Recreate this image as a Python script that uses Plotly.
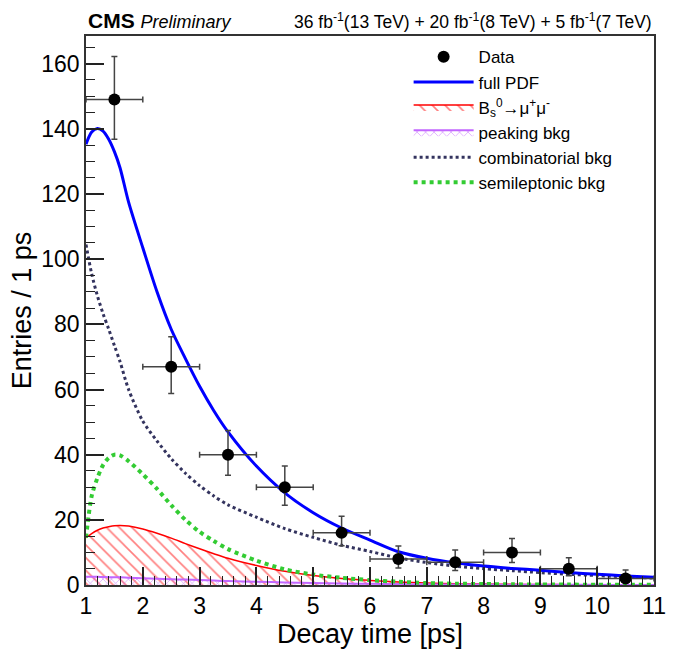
import plotly.graph_objects as go

# ---- data ----
bin_centers = [1.5, 2.5, 3.5, 4.5, 5.5, 6.5, 7.5, 8.5, 9.5, 10.5]
counts = [149, 67, 40, 30, 16, 8, 7, 10, 5, 2]
err_up = [13.2, 9.2, 7.4, 6.5, 5.1, 3.95, 3.77, 4.26, 3.38, 2.64]
err_down = [12.2, 8.2, 6.3, 5.5, 3.96, 2.76, 2.58, 3.11, 2.16, 1.29]
bin_half_width = [0.5] * 10

t_knots = [1.0, 1.1, 1.2, 1.3, 1.4, 1.5, 1.6, 1.75, 2.0, 2.25, 2.5, 2.75, 3.0, 3.25, 3.5,
           4.0, 4.5, 5.0, 5.5, 6.0, 6.5, 7.0, 7.5, 8.0, 8.5, 9.0, 9.5, 10.0, 10.5, 11.0]
full_pdf = [135.3, 139.0, 140.1, 139.3, 136.8, 133.0, 128.0, 117.5, 103.5, 90.0, 78.5, 69.5, 61.0, 53.5, 47.0,
            36.5, 28.3, 22.2, 17.5, 13.8, 10.2, 8.2, 6.8, 5.8, 5.1, 4.5, 3.8, 3.3, 2.8, 2.4]
signal_bs = [14.5, 15.8, 16.8, 17.5, 17.9, 18.2, 18.3, 18.1, 17.2, 15.9, 14.4, 12.7, 11.1, 9.6, 8.2,
             6.0, 4.2, 2.9, 2.0, 1.4, 0.9, 0.6, 0.4, 0.3, 0.2, 0.15, 0.1, 0.08, 0.05, 0.04]
peaking_bkg = [2.5, 2.5, 2.5, 2.45, 2.4, 2.4, 2.35, 2.25, 2.1, 1.95, 1.8, 1.65, 1.5, 1.35, 1.2,
               1.0, 0.8, 0.6, 0.45, 0.35, 0.27, 0.2, 0.16, 0.12, 0.09, 0.07, 0.05, 0.04, 0.03, 0.02]
comb_bkg = [104.5, 95.5, 88.8, 83.3, 78.5, 73.5, 68.5, 60.0, 50.3, 44.2, 38.8, 34.3, 30.5, 27.3, 24.6,
            20.8, 17.3, 14.6, 12.2, 10.3, 8.3, 6.9, 5.8, 5.0, 4.4, 3.8, 3.3, 2.9, 2.5, 2.1]
semi_bkg = [14.5, 27.3, 32.8, 36.8, 39.0, 40.0, 39.8, 38.0, 34.0, 29.5, 24.5, 20.0, 16.3, 13.5, 11.0,
            7.5, 4.8, 3.2, 2.2, 1.5, 1.0, 0.6, 0.4, 0.3, 0.22, 0.15, 0.12, 0.1, 0.07, 0.05]

x_ticks = list(range(1, 12))
y_ticks = [0, 20, 40, 60, 80, 100, 120, 140, 160]

FONT = "Liberation Sans, Arial, Helvetica, sans-serif"

fig = go.Figure()

fig.add_trace(go.Scatter(
    x=t_knots, y=signal_bs, mode="lines", name="B<sub>s</sub><sup>0</sup>→μ<sup>+</sup>μ<sup>-</sup>",
    line=dict(color="#ff0000", width=1.5, shape="spline", smoothing=0.8),
    fill="tozeroy", fillcolor="rgba(255,255,255,0)",
    fillpattern=dict(shape="\\", fgcolor="#ff0000", bgcolor="rgba(255,255,255,0)", size=9, solidity=0.18),
    legendrank=3))
fig.add_trace(go.Scatter(
    x=t_knots, y=peaking_bkg, mode="lines", name="peaking bkg",
    line=dict(color="#c266ff", width=2, shape="spline", smoothing=0.8),
    fill="tozeroy", fillcolor="rgba(255,255,255,0)",
    fillpattern=dict(shape="x", fgcolor="#b84dff", bgcolor="rgba(255,255,255,0)", size=6, solidity=0.25),
    legendrank=4))
fig.add_trace(go.Scatter(
    x=t_knots, y=comb_bkg, mode="lines", name="combinatorial bkg",
    line=dict(color="#33335e", width=3, dash="dot", shape="spline", smoothing=0.8),
    legendrank=5))
fig.add_trace(go.Scatter(
    x=t_knots, y=semi_bkg, mode="lines", name="semileptonic bkg",
    line=dict(color="#33cc33", width=4, dash="dot", shape="spline", smoothing=0.8),
    legendrank=6))
fig.add_trace(go.Scatter(
    x=t_knots, y=full_pdf, mode="lines", name="full PDF",
    line=dict(color="#0000ff", width=3, shape="spline", smoothing=0.8),
    legendrank=2))
fig.add_trace(go.Scatter(
    x=bin_centers, y=counts, mode="markers", name="Data",
    marker=dict(color="black", size=12),
    error_y=dict(type="data", symmetric=False, array=err_up, arrayminus=err_down,
                 color="#444444", thickness=1.5, width=3),
    error_x=dict(type="data", array=bin_half_width, color="#444444", thickness=1.5, width=3),
    legendrank=1))

fig.update_layout(
    width=678, height=660,
    margin=dict(l=86, r=16, t=36, b=75),
    paper_bgcolor="white", plot_bgcolor="white",
    font=dict(family=FONT, color="black"),
    showlegend=True,
    legend=dict(x=0.568, y=0.994, xanchor="left", yanchor="top",
                font=dict(size=17, family=FONT), bgcolor="rgba(255,255,255,0)",
                itemwidth=60, tracegroupgap=0),
    xaxis=dict(range=[1, 11], tickmode="array", tickvals=x_ticks, ticktext=[str(v) for v in x_ticks],
               ticks="inside", ticklen=18, tickwidth=1.5, tickcolor="#222",
               minor=dict(dtick=0.2, tick0=1, ticks="inside", ticklen=9, tickwidth=1.2, tickcolor="#222"),
               showline=True, linecolor="#333", linewidth=1.5, mirror=True,
               showgrid=False, zeroline=False,
               tickfont=dict(size=23, family=FONT),
               title=dict(text="Decay time [ps]", font=dict(size=27, family=FONT), standoff=6)),
    yaxis=dict(range=[0, 168.5], tickmode="array", tickvals=y_ticks, ticktext=[str(v) for v in y_ticks],
               ticks="inside", ticklen=18, tickwidth=1.5, tickcolor="#222",
               minor=dict(dtick=5, tick0=0, ticks="inside", ticklen=9, tickwidth=1.2, tickcolor="#222"),
               showline=True, linecolor="#333", linewidth=1.5, mirror=True,
               showgrid=False, zeroline=False,
               tickfont=dict(size=23, family=FONT),
               title=dict(text="Entries / 1 ps", font=dict(size=27, family=FONT), standoff=2)),
)

fig.add_annotation(xref="paper", yref="paper", x=0, y=1, xanchor="left", yanchor="bottom",
                   yshift=2, showarrow=False,
                   text="<b>CMS</b> <i><span style='font-size:18px'>Preliminary</span></i>",
                   font=dict(size=21, family=FONT))
fig.add_annotation(xref="paper", yref="paper", x=1, y=1, xanchor="right", yanchor="bottom",
                   yshift=2, showarrow=False,
                   text="36 fb<sup>-1</sup>(13 TeV) + 20 fb<sup>-1</sup>(8 TeV) + 5 fb<sup>-1</sup>(7 TeV)",
                   font=dict(size=17.5, family=FONT))

fig.write_html("out.html")
